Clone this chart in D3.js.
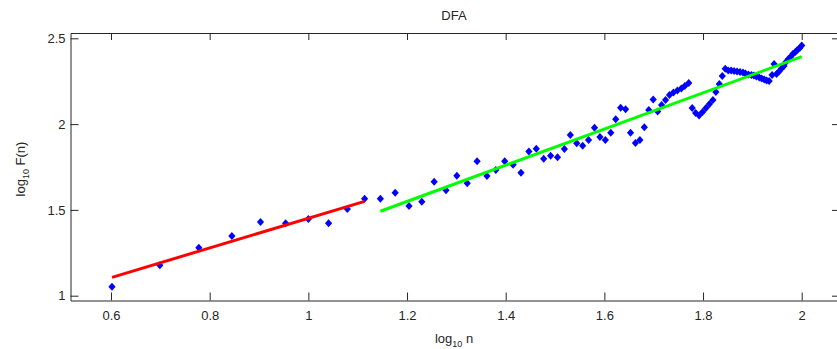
<!DOCTYPE html>
<html>
<head>
<meta charset="utf-8">
<script src="https://cdn.jsdelivr.net/npm/d3@7"></script>
<style>
  body { margin: 0; background: #fff; }
  text { font-family: "Liberation Sans", Arial, sans-serif; fill: #262626; }
</style>
</head>
<body>
<div id="chart"></div>
<script>
// log10(n), n = 4 .. 100
const logN = [
  0.602, 0.699, 0.778, 0.845, 0.903, 0.954, 1.000, 1.041, 1.079, 1.114,
  1.146, 1.176, 1.204, 1.230, 1.255, 1.279, 1.301, 1.322, 1.342, 1.362,
  1.380, 1.398, 1.415, 1.431, 1.447, 1.462, 1.477, 1.491, 1.505, 1.519,
  1.531, 1.544, 1.556, 1.568, 1.580, 1.591, 1.602, 1.613, 1.623, 1.633,
  1.643, 1.653, 1.663, 1.672, 1.681, 1.690, 1.699, 1.708, 1.716, 1.724,
  1.732, 1.740, 1.748, 1.756, 1.763, 1.771, 1.778, 1.785, 1.792, 1.799,
  1.806, 1.813, 1.820, 1.826, 1.833, 1.839, 1.845, 1.851, 1.857, 1.863,
  1.869, 1.875, 1.881, 1.886, 1.892, 1.898, 1.903, 1.908, 1.914, 1.919,
  1.924, 1.929, 1.934, 1.940, 1.944, 1.949, 1.954, 1.959, 1.964, 1.968,
  1.973, 1.978, 1.982, 1.987, 1.991, 1.996, 2.000
];

// log10(F(n))
const logF = [
  1.052, 1.177, 1.280, 1.348, 1.429, 1.422, 1.447, 1.422, 1.505, 1.565,
  1.565, 1.600, 1.523, 1.548, 1.664, 1.614, 1.699, 1.655, 1.783, 1.698,
  1.733, 1.783, 1.763, 1.717, 1.841, 1.857, 1.798, 1.816, 1.807, 1.855,
  1.936, 1.888, 1.874, 1.907, 1.979, 1.925, 1.907, 1.950, 2.028, 2.096,
  2.086, 1.949, 1.890, 1.907, 1.981, 2.082, 2.143, 2.073, 2.111, 2.140,
  2.170, 2.184, 2.196, 2.207, 2.222, 2.240, 2.094, 2.065, 2.050, 2.071,
  2.094, 2.117, 2.140, 2.187, 2.234, 2.280, 2.323, 2.312, 2.312, 2.309,
  2.307, 2.304, 2.301, 2.295, 2.289, 2.286, 2.283, 2.277, 2.272, 2.266,
  2.260, 2.254, 2.251, 2.286, 2.350, 2.292, 2.307, 2.324, 2.339, 2.362,
  2.379, 2.394, 2.409, 2.420, 2.432, 2.443, 2.458
];

// fitted lines (end points)
const redFitX = [0.602, 1.114];
const redFitY = [1.107, 1.550];
const greenFitX = [1.146, 2.000];
const greenFitY = [1.492, 2.393];

const xTicks = [0.6, 0.8, 1, 1.2, 1.4, 1.6, 1.8, 2];
const yTicks = [1, 1.5, 2, 2.5];

// chart dimensions
const width = 837;
const height = 349;
const marginLeft = 70.5;
const marginRight = -3;
const marginTop = 33;
const marginBottom = 48.5;

const x = d3.scaleLinear([0.5179, 2.0776], [marginLeft, width - marginRight]);
const y = d3.scaleLinear([0.972, 2.531], [height - marginBottom, marginTop]);

const svg = d3.select("#chart").append("svg")
    .attr("width", width)
    .attr("height", height)
    .attr("viewBox", [0, 0, width, height]);

// axes (ticks point inward, box on all sides)
const fmt = d => String(d);
svg.append("g")
    .attr("transform", `translate(0,${height - marginBottom})`)
    .call(d3.axisBottom(x).tickValues(xTicks).tickFormat(fmt).tickSizeInner(-8).tickSizeOuter(0).tickPadding(10));
svg.append("g")
    .attr("transform", `translate(0,${marginTop})`)
    .call(d3.axisTop(x).tickValues(xTicks).tickFormat("").tickSizeInner(-7).tickSizeOuter(0));
svg.append("g")
    .attr("transform", `translate(${marginLeft},0)`)
    .call(d3.axisLeft(y).tickValues(yTicks).tickFormat(fmt).tickSizeInner(-8).tickSizeOuter(0).tickPadding(5));
svg.append("g")
    .attr("transform", `translate(${width - marginRight},0)`)
    .call(d3.axisRight(y).tickValues(yTicks).tickFormat("").tickSizeInner(-8).tickSizeOuter(0));

svg.selectAll(".domain, .tick line").attr("stroke", "#262626");
svg.selectAll(".tick text")
    .attr("font-size", 13)
    .attr("font-family", "Liberation Sans, Arial, sans-serif")
    .attr("fill", "#262626");

// data points (filled diamonds)
const diamond = "M0,-4L3.6,0L0,4L-3.6,0Z";
svg.append("g")
  .selectAll("path")
  .data(logN)
  .join("path")
    .attr("transform", (d, i) => `translate(${x(d)},${y(logF[i])})`)
    .attr("d", diamond)
    .attr("fill", "#0000ff");

// fitted lines
const line = d3.line()
    .x(d => x(d[0]))
    .y(d => y(d[1]));

svg.append("path")
    .attr("d", line(d3.zip(redFitX, redFitY)))
    .attr("fill", "none")
    .attr("stroke", "#ff0000")
    .attr("stroke-width", 3);

svg.append("path")
    .attr("d", line(d3.zip(greenFitX, greenFitY)))
    .attr("fill", "none")
    .attr("stroke", "#00ff00")
    .attr("stroke-width", 3);

// title and labels
const cx = (marginLeft + 837) / 2;
svg.append("text")
    .attr("x", 454)
    .attr("y", 19.5)
    .attr("text-anchor", "middle")
    .attr("font-size", 13)
    .text("DFA");

const xl = svg.append("text")
    .attr("x", 454)
    .attr("y", 342.5)
    .attr("text-anchor", "middle")
    .attr("font-size", 13);
xl.append("tspan").text("log");
xl.append("tspan").attr("font-size", 9).attr("dy", 4).text("10");
xl.append("tspan").attr("dy", -4).text(" n");

const yl = svg.append("text")
    .attr("transform", "translate(24.5,169) rotate(-90)")
    .attr("text-anchor", "middle")
    .attr("font-size", 13);
yl.append("tspan").text("log");
yl.append("tspan").attr("font-size", 9).attr("dy", 4).text("10");
yl.append("tspan").attr("dy", -4).text(" F(n)");
</script>
</body>
</html>
